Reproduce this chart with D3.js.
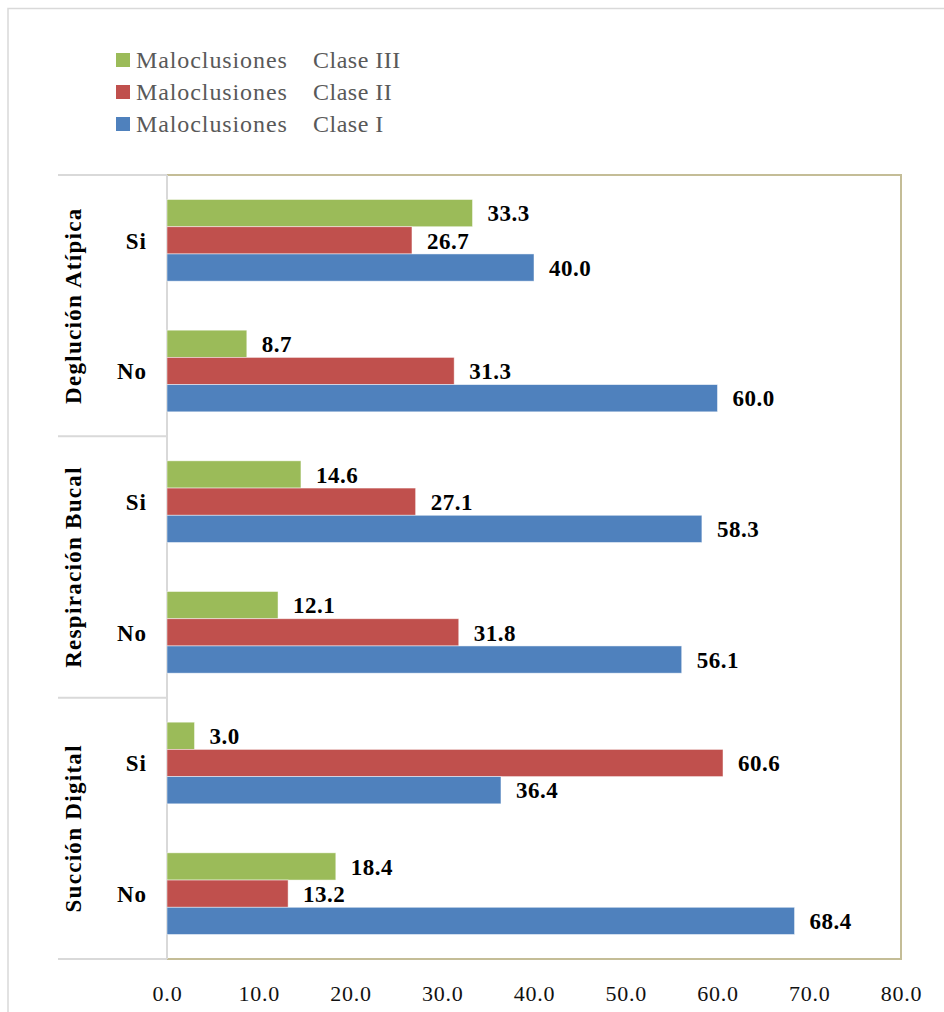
<!DOCTYPE html>
<html>
<head>
<meta charset="utf-8">
<script src="https://cdn.jsdelivr.net/npm/d3@7"></script>
<style>
  html, body { margin: 0; padding: 0; background: #fff; }
  svg { display: block; }
</style>
</head>
<body>
<svg id="chart" width="944" height="1012"></svg>
<script>
// Habits grouped by Si / No, top to bottom
const groups = ["Deglución Atípica", "Respiración Bucal", "Succión Digital"];
const answers = ["Si", "No"];
const categories = [
  "Deglución Atípica|Si", "Deglución Atípica|No",
  "Respiración Bucal|Si", "Respiración Bucal|No",
  "Succión Digital|Si", "Succión Digital|No"
];
// Percentages per class, in category order
const claseI   = [40.0, 60.0, 58.3, 56.1, 36.4, 68.4];
const claseII  = [26.7, 31.3, 27.1, 31.8, 60.6, 13.2];
const claseIII = [33.3, 8.7, 14.6, 12.1, 3.0, 18.4];
const seriesNames = ["Clase III", "Clase II", "Clase I"];
const seriesColors = ["#9bbb59", "#c0504d", "#4f81bd"];
const tickValues = [0, 10, 20, 30, 40, 50, 60, 70, 80];

const seriesValues = [claseIII, claseII, claseI];

const svg = d3.select("#chart");
const serif = "'Liberation Serif', 'DejaVu Serif', serif";

const plot = { left: 167, right: 901, top: 175, bottom: 959 };

// outer chart frame
svg.append("path")
  .attr("d", "M8,1012 L8,8.5 L944,8.5")
  .attr("fill", "none").attr("stroke", "#d9d9d9").attr("stroke-width", 1.5);

const x = d3.scaleLinear().domain([0, 80]).range([plot.left, plot.right]);
const y = d3.scaleBand().domain(categories).range([plot.top, plot.bottom]).padding(0);
const ySub = d3.scaleBand().domain(seriesNames)
  .range([0, y.bandwidth()]).paddingInner(0).paddingOuter(0.9);

// plot area border
svg.append("path")
  .attr("d", `M${plot.left},${plot.top} H${plot.right} V${plot.bottom} H${plot.left}`)
  .attr("fill", "none").attr("stroke", "#c4bd97").attr("stroke-width", 2);

// category axis lines (multi-level)
const axisG = svg.append("g").attr("stroke", "#d9d9d9").attr("stroke-width", 2);
axisG.append("line")
  .attr("x1", plot.left).attr("x2", plot.left)
  .attr("y1", plot.top).attr("y2", plot.bottom);
const groupEdges = [0, 2, 4, 6].map(i => i < 6 ? y(categories[i]) : plot.bottom);
axisG.selectAll("line.sep").data(groupEdges).join("line")
  .attr("class", "sep")
  .attr("x1", 58).attr("x2", plot.left)
  .attr("y1", d => d).attr("y2", d => d);

// bars
const rows = categories.map((c, i) => ({
  cat: c,
  vals: seriesNames.map((s, k) => ({ series: s, value: seriesValues[k][i], color: seriesColors[k] }))
}));

const catG = svg.selectAll("g.cat").data(rows).join("g")
  .attr("class", "cat")
  .attr("transform", d => `translate(0,${y(d.cat)})`);

catG.selectAll("rect").data(d => d.vals).join("rect")
  .attr("x", x(0))
  .attr("y", d => ySub(d.series))
  .attr("width", d => x(d.value) - x(0))
  .attr("height", ySub.bandwidth())
  .attr("fill", d => d.color)
  .attr("stroke", "#ffffff").attr("stroke-opacity", 0.6).attr("stroke-width", 0.8);

catG.selectAll("text.val").data(d => d.vals).join("text")
  .attr("class", "val")
  .attr("x", d => x(d.value) + 15)
  .attr("y", d => ySub(d.series) + ySub.bandwidth() / 2)
  .attr("dy", "0.36em")
  .attr("font-family", serif).attr("font-weight", "bold")
  .attr("font-size", 23).attr("letter-spacing", 0.5).attr("fill", "#000")
  .text(d => d3.format(".1f")(d.value));

// Si / No labels
svg.selectAll("text.ans").data(categories).join("text")
  .attr("class", "ans")
  .attr("x", 147)
  .attr("y", d => y(d) + y.bandwidth() / 2)
  .attr("dy", "0.36em")
  .attr("text-anchor", "end")
  .attr("font-family", serif).attr("font-weight", "bold")
  .attr("font-size", 23).attr("letter-spacing", 1).attr("fill", "#000")
  .text(d => d.split("|")[1]);

// group labels, rotated
svg.selectAll("text.grp").data(groups).join("text")
  .attr("class", "grp")
  .attr("transform", g => {
    const cy = y(g + "|Si") + y.bandwidth();
    return `translate(81,${cy}) rotate(-90)`;
  })
  .attr("text-anchor", "middle")
  .attr("font-family", serif).attr("font-weight", "bold")
  .attr("font-size", 23).attr("letter-spacing", 1.3).attr("fill", "#000")
  .text(g => g);

// value axis
const xAxis = d3.axisBottom(x).tickValues(tickValues)
  .tickFormat(d3.format(".1f")).tickSize(0);
const xg = svg.append("g").attr("transform", `translate(0,${plot.bottom})`).call(xAxis);
xg.select(".domain").remove();
xg.selectAll("text")
  .attr("y", 34).attr("dy", "0.36em")
  .attr("font-family", serif).attr("font-size", 22)
  .attr("letter-spacing", 0.8)
  .attr("fill", "#111");

// legend
const legend = svg.append("g");
const legRows = seriesNames.map((s, k) => ({ s, c: seriesColors[k], cy: 60 + k * 32 }));
legend.selectAll("rect").data(legRows).join("rect")
  .attr("x", 116).attr("y", d => d.cy - 7)
  .attr("width", 14).attr("height", 14)
  .attr("fill", d => d.c);
legend.selectAll("text.a").data(legRows).join("text")
  .attr("class", "a")
  .attr("x", 136).attr("y", d => d.cy).attr("dy", "0.35em")
  .attr("font-family", serif).attr("font-size", 24)
  .attr("letter-spacing", 0.9).attr("fill", "#595959")
  .text("Maloclusiones");
legend.selectAll("text.b").data(legRows).join("text")
  .attr("class", "b")
  .attr("x", 313).attr("y", d => d.cy).attr("dy", "0.35em")
  .attr("font-family", serif).attr("font-size", 24)
  .attr("letter-spacing", 0.5).attr("fill", "#595959")
  .text(d => d.s);
</script>
</body>
</html>
